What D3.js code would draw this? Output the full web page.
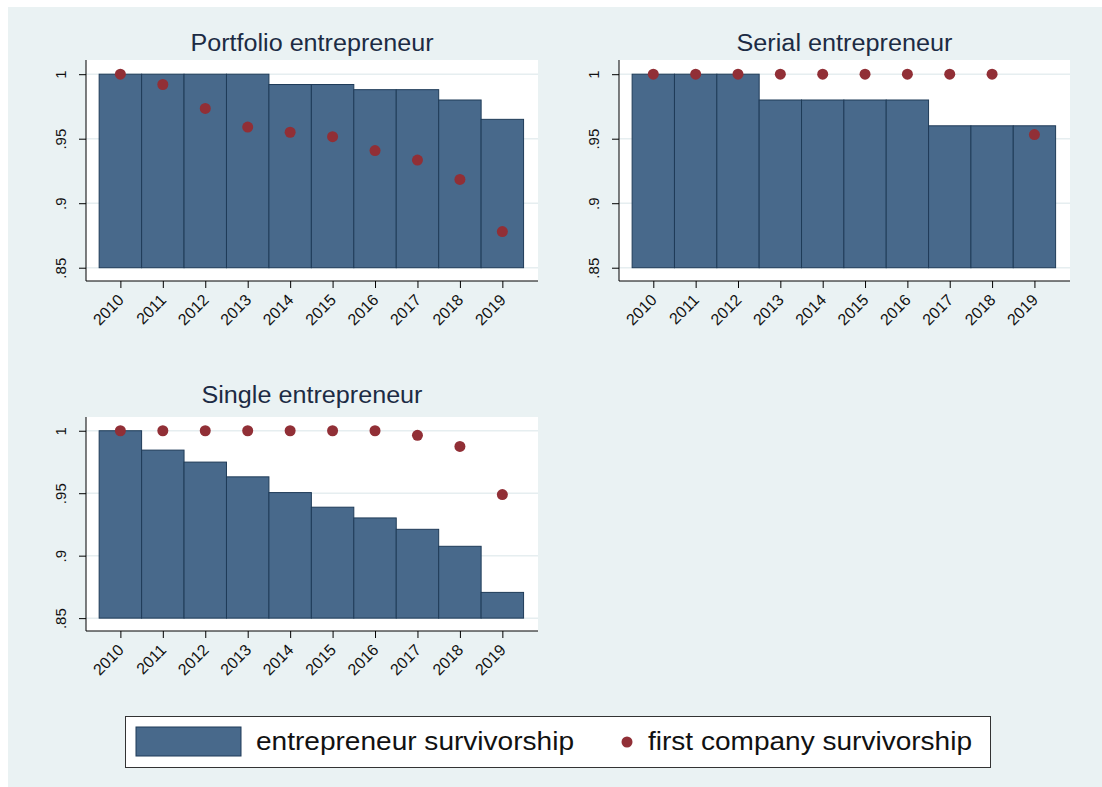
<!DOCTYPE html>
<html>
<head>
<meta charset="utf-8">
<script src="https://cdn.jsdelivr.net/npm/d3@7"></script>
<style>
  body { margin: 0; background: #ffffff; }
  text { font-family: "Liberation Sans", Arial, sans-serif; }
</style>
</head>
<body>
<div id="canvas"></div>
<script>
// chart data
var years = [2010, 2011, 2012, 2013, 2014, 2015, 2016, 2017, 2018, 2019];
var yTicks = [0.85, 0.9, 0.95, 1];
var yTickLabels = [".85", ".9", ".95", "1"];

var portfolioEntrepreneur = [1, 1, 1, 1, 0.992, 0.992, 0.988, 0.988, 0.980, 0.965];
var portfolioFirstCompany = [1, 0.992, 0.9735, 0.959, 0.955, 0.9516, 0.9408, 0.9334, 0.9184, 0.878];

var serialEntrepreneur = [1, 1, 1, 0.980, 0.980, 0.980, 0.980, 0.960, 0.960, 0.960];
var serialFirstCompany = [1, 1, 1, 1, 1, 1, 1, 1, 1, 0.9532];

var singleEntrepreneur = [1, 0.9845, 0.9749, 0.9631, 0.9505, 0.9388, 0.9302, 0.9211, 0.9075, 0.8706];
var singleFirstCompany = [1, 1, 1, 1, 1, 1, 1, 0.9963, 0.9874, 0.9489];

var legendLabels = ["entrepreneur survivorship", "first company survivorship"];

// colours
var bgColor = "#eaf2f3";
var barColor = "#48698b";
var barStroke = "#1f3b58";
var dotColor = "#912f36";
var titleColor = "#1c2b44";

var width = 1102;
var height = 787;

var svg = d3.select("#canvas")
    .append("svg")
    .attr("width", width)
    .attr("height", height);

// white strip on top/left, then the graph background
svg.append("rect")
    .attr("width", width).attr("height", height)
    .attr("fill", "#ffffff");
svg.append("rect")
    .attr("x", 8).attr("y", 7)
    .attr("width", width - 8).attr("height", height - 7)
    .attr("fill", bgColor);

var panels = [
    {title: "Portfolio entrepreneur", bars: portfolioEntrepreneur, dots: portfolioFirstCompany,
     left: 86, right: 538, top: 60, bottom: 281, titleY: 51, titleLen: 243},
    {title: "Serial entrepreneur", bars: serialEntrepreneur, dots: serialFirstCompany,
     left: 619, right: 1070, top: 60, bottom: 281, titleY: 51, titleLen: 216},
    {title: "Single entrepreneur", bars: singleEntrepreneur, dots: singleFirstCompany,
     left: 86, right: 538, top: 417, bottom: 631, titleY: 403, titleLen: 221}
];

panels.forEach(function(p) {
    var x = d3.scaleLinear()
        .domain([2009.19, 2019.84])
        .range([p.left, p.right]);

    var y = d3.scaleLinear()
        .domain([0.8397, 1.011])
        .range([p.bottom, p.top]);

    var g = svg.append("g");

    // plot region
    g.append("rect")
        .attr("x", p.left).attr("y", p.top)
        .attr("width", p.right - p.left)
        .attr("height", p.bottom - p.top)
        .attr("fill", "#ffffff");

    // grid lines
    g.selectAll(".grid")
        .data(yTicks)
        .enter()
        .append("line")
        .attr("x1", p.left).attr("x2", p.right)
        .attr("y1", function(d) { return y(d); })
        .attr("y2", function(d) { return y(d); })
        .attr("stroke", "#e6eef0")
        .attr("stroke-width", 1.5);

    // bars start from .85
    g.selectAll(".bar")
        .data(p.bars)
        .enter()
        .append("rect")
        .attr("x", function(d, i) { return x(years[i] - 0.5); })
        .attr("width", function(d, i) { return x(years[i] + 0.5) - x(years[i] - 0.5); })
        .attr("y", function(d) { return y(d); })
        .attr("height", function(d) { return y(0.85) - y(d); })
        .attr("fill", barColor)
        .attr("stroke", barStroke)
        .attr("stroke-width", 1);

    g.selectAll(".dot")
        .data(p.dots)
        .enter()
        .append("circle")
        .attr("cx", function(d, i) { return x(years[i]); })
        .attr("cy", function(d) { return y(d); })
        .attr("r", 5.5)
        .attr("fill", dotColor);

    // y axis
    var yAxis = d3.axisLeft(y)
        .tickValues(yTicks)
        .tickSize(7)
        .tickFormat(function(d, i) { return yTickLabels[i]; });

    var ya = g.append("g")
        .attr("transform", "translate(" + p.left + ",0)")
        .call(yAxis);
    ya.select(".domain")
        .attr("d", "M0," + p.top + "V" + p.bottom)
        .attr("stroke", "#000");
    ya.selectAll(".tick line").attr("stroke", "#000");
    ya.selectAll(".tick text")
        .attr("x", null).attr("dy", null)
        .attr("transform", "translate(-20,0) rotate(-90)")
        .attr("text-anchor", "middle")
        .attr("fill", "#111")
        .style("font-size", "15px");

    // x axis
    var xAxis = d3.axisBottom(x)
        .tickValues(years)
        .tickSize(7)
        .tickFormat(d3.format("d"));

    var xa = g.append("g")
        .attr("transform", "translate(0," + p.bottom + ")")
        .call(xAxis);
    xa.select(".domain")
        .attr("d", "M" + p.left + ",0H" + p.right)
        .attr("stroke", "#000");
    xa.selectAll(".tick line").attr("stroke", "#000");
    xa.selectAll(".tick text")
        .attr("y", null).attr("dy", null)
        .attr("transform", "translate(4,20) rotate(-45)")
        .attr("text-anchor", "end")
        .attr("fill", "#111")
        .style("font-size", "16px");

    // panel title
    svg.append("text")
        .attr("x", (p.left + p.right) / 2)
        .attr("y", p.titleY)
        .attr("text-anchor", "middle")
        .attr("fill", titleColor)
        .attr("textLength", p.titleLen)
        .attr("lengthAdjust", "spacingAndGlyphs")
        .style("font-size", "23px")
        .text(p.title);
});

// legend
var legend = svg.append("g");

legend.append("rect")
    .attr("x", 125.5).attr("y", 716.5)
    .attr("width", 865).attr("height", 51)
    .attr("fill", "#ffffff")
    .attr("stroke", "#333")
    .attr("stroke-width", 1);

legend.append("rect")
    .attr("x", 136).attr("y", 727)
    .attr("width", 105).attr("height", 29)
    .attr("fill", barColor)
    .attr("stroke", barStroke)
    .attr("stroke-width", 1);

legend.append("text")
    .attr("x", 256).attr("y", 750)
    .attr("fill", "#111")
    .attr("textLength", 318)
    .attr("lengthAdjust", "spacingAndGlyphs")
    .style("font-size", "25px")
    .text(legendLabels[0]);

legend.append("circle")
    .attr("cx", 627).attr("cy", 742)
    .attr("r", 5.5)
    .attr("fill", dotColor);

legend.append("text")
    .attr("x", 648).attr("y", 750)
    .attr("fill", "#111")
    .attr("textLength", 324)
    .attr("lengthAdjust", "spacingAndGlyphs")
    .style("font-size", "25px")
    .text(legendLabels[1]);
</script>
</body>
</html>
